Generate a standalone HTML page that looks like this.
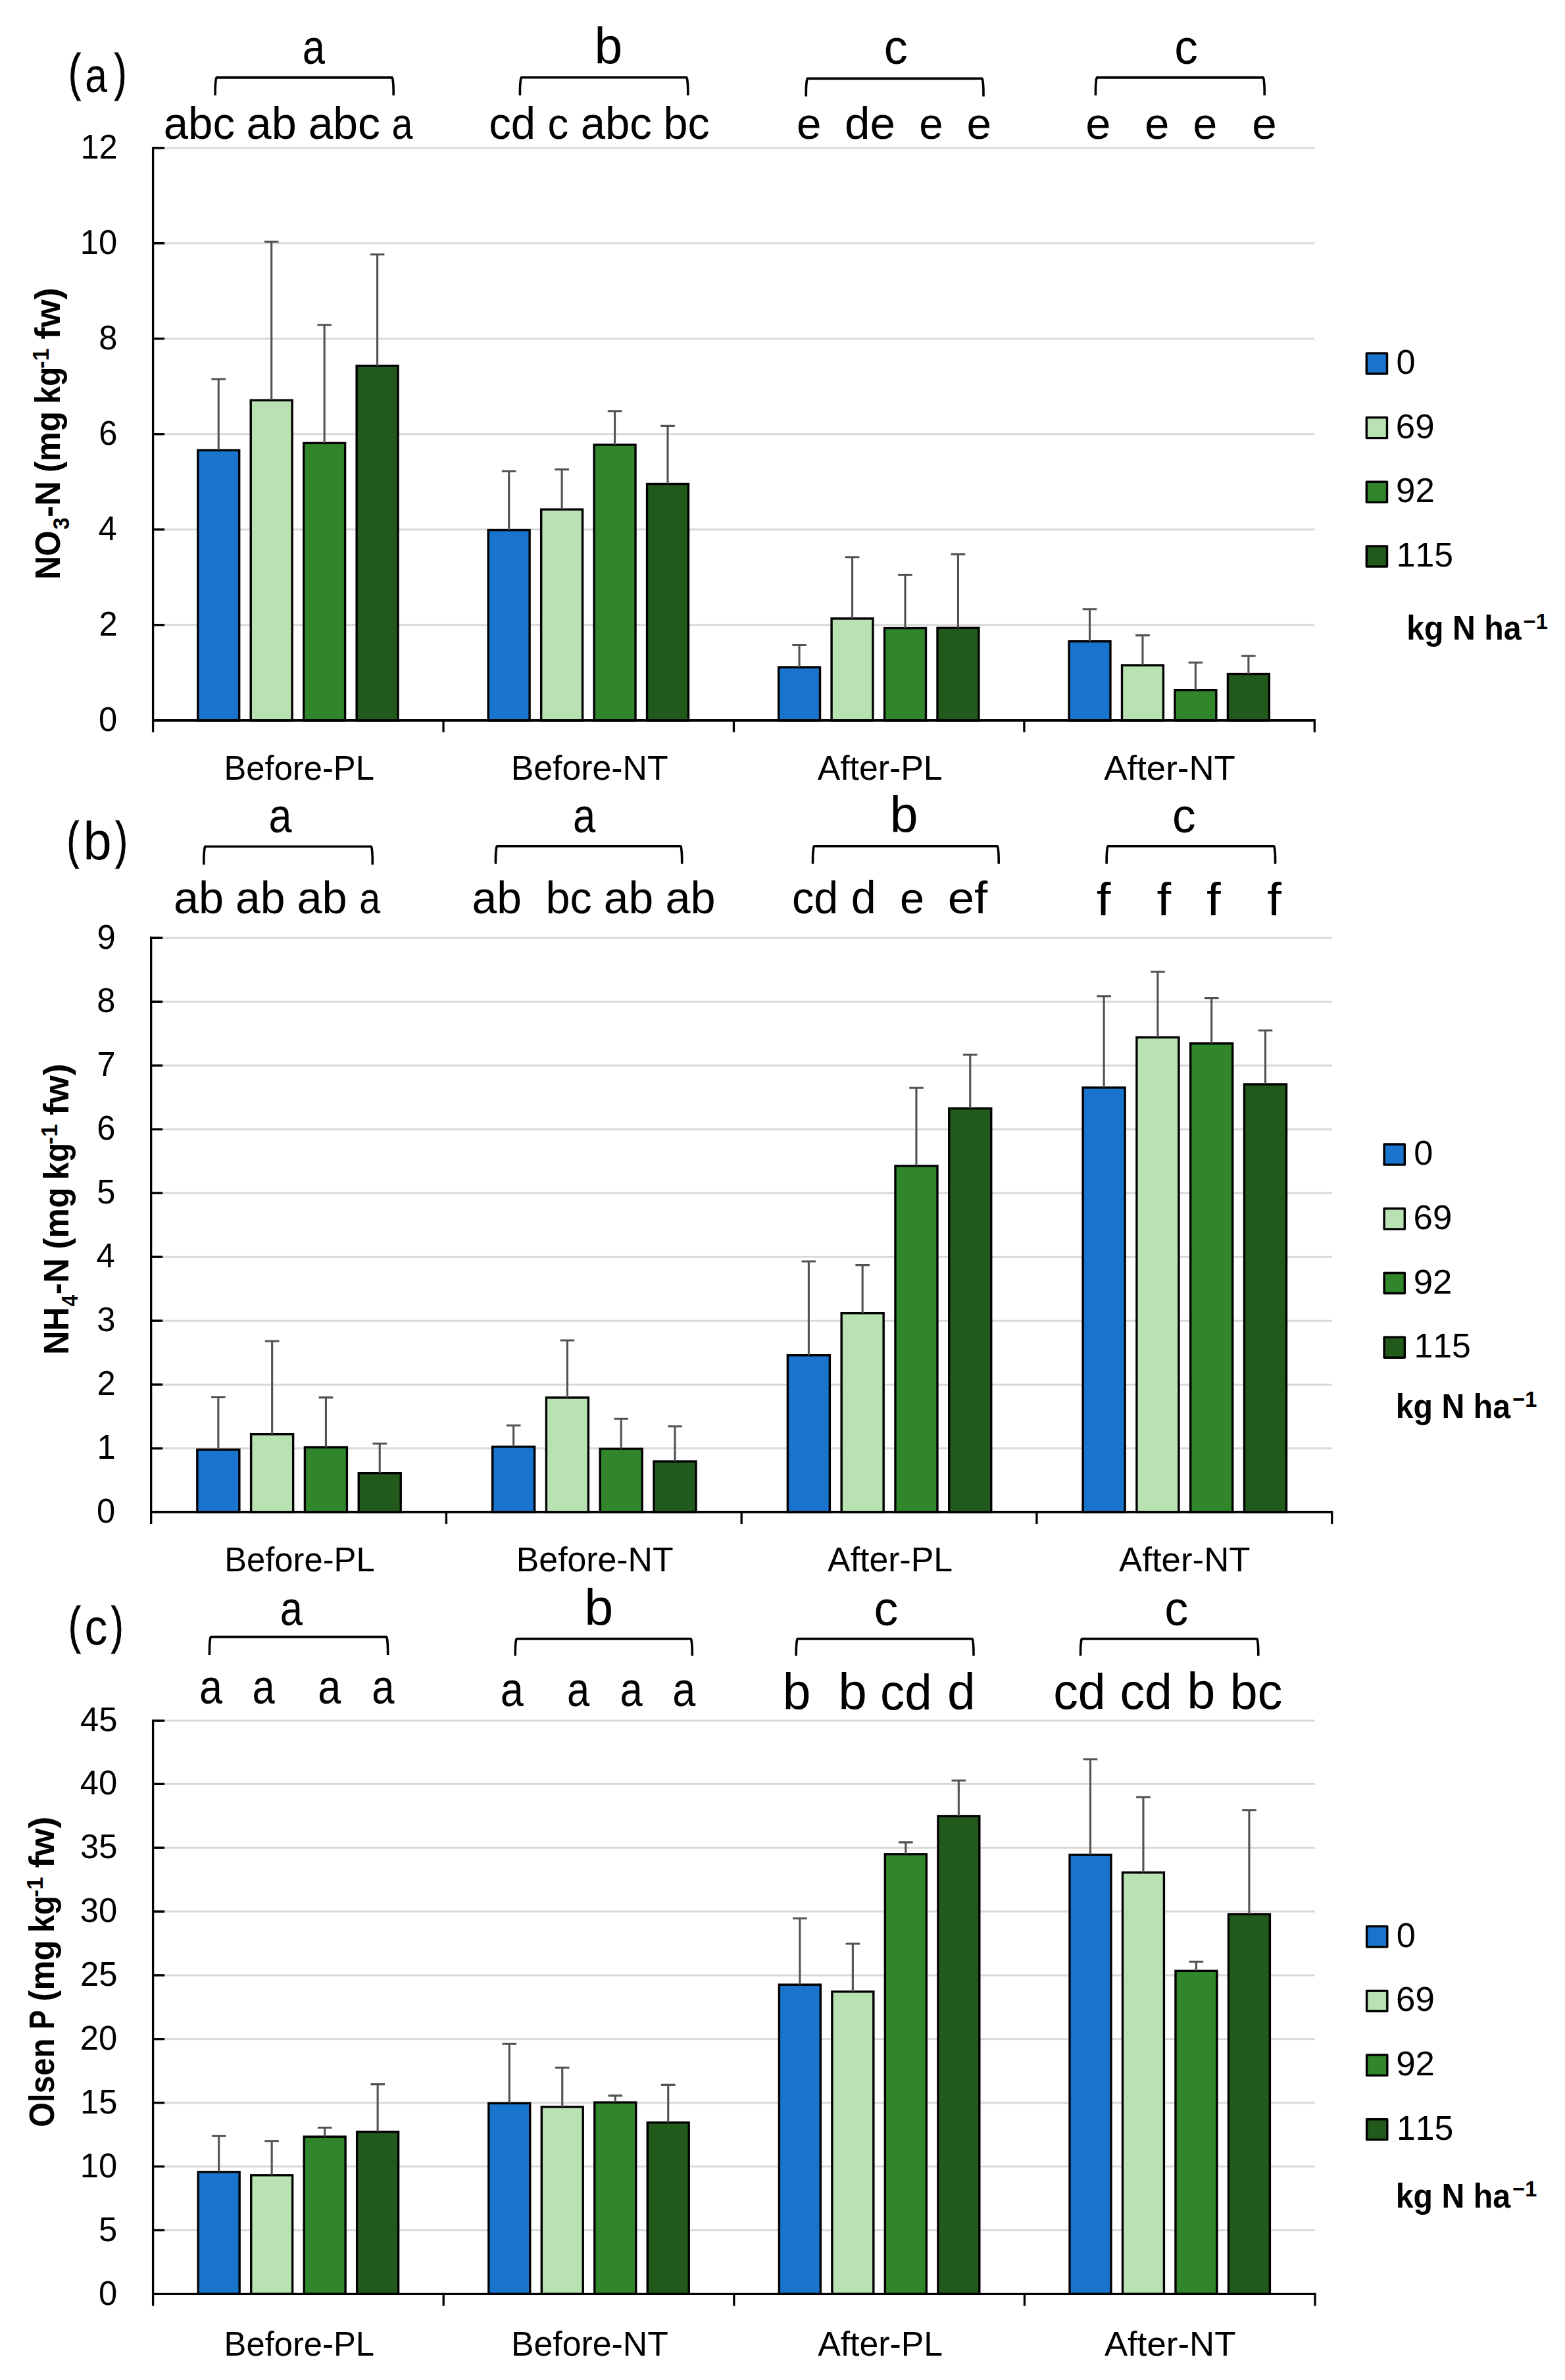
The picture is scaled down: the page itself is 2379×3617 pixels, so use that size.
<!DOCTYPE html>
<html lang="en"><head><meta charset="utf-8"><title>Soil nutrient charts</title>
<style>
html,body{margin:0;padding:0;background:#fff}
body{width:2379px;height:3617px;overflow:hidden}
svg{display:block}
text{font-family:"Liberation Sans",sans-serif;font-kerning:none;fill:#000;white-space:pre}
</style></head><body>
<svg width="2379" height="3617" viewBox="0 0 2379 3617">
<rect width="2379" height="3617" fill="#fff"/>
<line x1="232.6" y1="949.78" x2="1998.3" y2="949.78" stroke="#D9D9D9" stroke-width="3"/>
<line x1="232.6" y1="804.77" x2="1998.3" y2="804.77" stroke="#D9D9D9" stroke-width="3"/>
<line x1="232.6" y1="659.75" x2="1998.3" y2="659.75" stroke="#D9D9D9" stroke-width="3"/>
<line x1="232.6" y1="514.73" x2="1998.3" y2="514.73" stroke="#D9D9D9" stroke-width="3"/>
<line x1="232.6" y1="369.72" x2="1998.3" y2="369.72" stroke="#D9D9D9" stroke-width="3"/>
<line x1="232.6" y1="224.9" x2="1998.3" y2="224.9" stroke="#D9D9D9" stroke-width="3"/>
<rect x="300.78" y="684.2" width="62.9" height="410.6" fill="#1874CD" stroke="#000" stroke-width="3.4"/>
<rect x="381.23" y="608.3" width="62.9" height="486.5" fill="#B9E2B3" stroke="#000" stroke-width="3.4"/>
<rect x="461.69" y="673.4" width="62.9" height="421.4" fill="#31862B" stroke="#000" stroke-width="3.4"/>
<rect x="542.14" y="556.1" width="62.9" height="538.7" fill="#215A1B" stroke="#000" stroke-width="3.4"/>
<rect x="742.21" y="805.6" width="62.9" height="289.2" fill="#1874CD" stroke="#000" stroke-width="3.4"/>
<rect x="822.66" y="774.2" width="62.9" height="320.6" fill="#B9E2B3" stroke="#000" stroke-width="3.4"/>
<rect x="903.11" y="676" width="62.9" height="418.8" fill="#31862B" stroke="#000" stroke-width="3.4"/>
<rect x="983.57" y="735.5" width="62.9" height="359.3" fill="#215A1B" stroke="#000" stroke-width="3.4"/>
<rect x="1183.63" y="1014" width="62.9" height="80.8" fill="#1874CD" stroke="#000" stroke-width="3.4"/>
<rect x="1264.08" y="940" width="62.9" height="154.8" fill="#B9E2B3" stroke="#000" stroke-width="3.4"/>
<rect x="1344.54" y="954.6" width="62.9" height="140.2" fill="#31862B" stroke="#000" stroke-width="3.4"/>
<rect x="1424.99" y="954.3" width="62.9" height="140.5" fill="#215A1B" stroke="#000" stroke-width="3.4"/>
<rect x="1625.06" y="974.7" width="62.9" height="120.1" fill="#1874CD" stroke="#000" stroke-width="3.4"/>
<rect x="1705.51" y="1011" width="62.9" height="83.8" fill="#B9E2B3" stroke="#000" stroke-width="3.4"/>
<rect x="1785.96" y="1048.7" width="62.9" height="46.1" fill="#31862B" stroke="#000" stroke-width="3.4"/>
<rect x="1866.42" y="1024.5" width="62.9" height="70.3" fill="#215A1B" stroke="#000" stroke-width="3.4"/>
<path d="M332.23 683.9V576.2M321.43 576.2H343.03" fill="none" stroke="#525252" stroke-width="3.1"/>
<path d="M412.69 608V367.2M401.89 367.2H423.49" fill="none" stroke="#525252" stroke-width="3.1"/>
<path d="M493.14 673.1V493.8M482.34 493.8H503.94" fill="none" stroke="#525252" stroke-width="3.1"/>
<path d="M573.59 555.8V386.8M562.79 386.8H584.39" fill="none" stroke="#525252" stroke-width="3.1"/>
<path d="M773.66 805.3V716M762.86 716H784.46" fill="none" stroke="#525252" stroke-width="3.1"/>
<path d="M854.11 773.9V713.4M843.31 713.4H864.91" fill="none" stroke="#525252" stroke-width="3.1"/>
<path d="M934.56 675.7V624.8M923.76 624.8H945.36" fill="none" stroke="#525252" stroke-width="3.1"/>
<path d="M1015.02 735.2V647.4M1004.22 647.4H1025.82" fill="none" stroke="#525252" stroke-width="3.1"/>
<path d="M1215.08 1013.7V980.5M1204.28 980.5H1225.88" fill="none" stroke="#525252" stroke-width="3.1"/>
<path d="M1295.54 939.7V846.7M1284.74 846.7H1306.34" fill="none" stroke="#525252" stroke-width="3.1"/>
<path d="M1375.99 954.3V873.5M1365.19 873.5H1386.79" fill="none" stroke="#525252" stroke-width="3.1"/>
<path d="M1456.44 954V842.4M1445.64 842.4H1467.24" fill="none" stroke="#525252" stroke-width="3.1"/>
<path d="M1656.51 974.4V925.8M1645.71 925.8H1667.31" fill="none" stroke="#525252" stroke-width="3.1"/>
<path d="M1736.96 1010.7V965.6M1726.16 965.6H1747.76" fill="none" stroke="#525252" stroke-width="3.1"/>
<path d="M1817.41 1048.4V1007M1806.61 1007H1828.21" fill="none" stroke="#525252" stroke-width="3.1"/>
<path d="M1897.87 1024.2V996.7M1887.07 996.7H1908.67" fill="none" stroke="#525252" stroke-width="3.1"/>
<path d="M232.6 223.2V1112.8" stroke="#000" stroke-width="3.3" fill="none"/>
<path d="M231 1094.8H1999.9" stroke="#000" stroke-width="3.8" fill="none"/>
<path d="M674.02 1094.8V1112.8" stroke="#000" stroke-width="3.3" fill="none"/>
<path d="M1115.45 1094.8V1112.8" stroke="#000" stroke-width="3.3" fill="none"/>
<path d="M1556.88 1094.8V1112.8" stroke="#000" stroke-width="3.3" fill="none"/>
<path d="M1998.3 1094.8V1112.8" stroke="#000" stroke-width="3.3" fill="none"/>
<path d="M232.6 949.78H250.1" stroke="#000" stroke-width="3.4" fill="none"/>
<path d="M232.6 804.77H250.1" stroke="#000" stroke-width="3.4" fill="none"/>
<path d="M232.6 659.75H250.1" stroke="#000" stroke-width="3.4" fill="none"/>
<path d="M232.6 514.73H250.1" stroke="#000" stroke-width="3.4" fill="none"/>
<path d="M232.6 369.72H250.1" stroke="#000" stroke-width="3.4" fill="none"/>
<path d="M232.6 224.9H250.1" stroke="#000" stroke-width="3.4" fill="none"/>
<text transform="translate(149.95 1111) scale(0.97 1)" font-size="52.3">0</text>
<text transform="translate(150.52 965.98) scale(0.97 1)" font-size="52.3">2</text>
<text transform="translate(149.45 820.97) scale(0.97 1)" font-size="52.3">4</text>
<text transform="translate(150.2 675.95) scale(0.97 1)" font-size="52.3">6</text>
<text transform="translate(150.17 530.93) scale(0.97 1)" font-size="52.3">8</text>
<text transform="translate(121.82 385.92) scale(0.97 1)" font-size="52.3">10</text>
<text transform="translate(122.39 240.9) scale(0.97 1)" font-size="52.3">12</text>
<text transform="translate(340.5 1184.8) scale(0.97 1)" font-size="52.3">Before-PL</text>
<text transform="translate(776.8 1184.8) scale(0.99 1)" font-size="52.3">Before-NT</text>
<text transform="translate(1242.71 1184.8) scale(0.99 1)" font-size="52.3">After-PL</text>
<text transform="translate(1678.28 1184.8) scale(1.01 1)" font-size="52.3">After-NT</text>
<text transform="translate(459.68 96.57) scale(0.82 1)" font-size="75">a</text>
<text transform="translate(903.56 96.54) scale(0.98 1)" font-size="78.3">b</text>
<text transform="translate(1343.75 96.57) scale(0.96 1)" font-size="75">c</text>
<text transform="translate(1785.27 96.57) scale(0.95 1)" font-size="75">c</text>
<text transform="translate(248.74 210.83) scale(0.98 1)" font-size="68.5">abc</text>
<text transform="translate(374.6 210.83) scale(1 1)" font-size="68.5">ab</text>
<text transform="translate(468.63 210.83) scale(0.99 1)" font-size="68.5">abc</text>
<text transform="translate(595.57 210.85) scale(0.86 1)" font-size="66.7">a</text>
<text transform="translate(743.14 210.83) scale(0.98 1)" font-size="68.5">cd</text>
<text transform="translate(832.4 210.85) scale(0.95 1)" font-size="66.7">c</text>
<text transform="translate(882.65 210.83) scale(0.98 1)" font-size="68.5">abc</text>
<text transform="translate(1008.5 210.83) scale(0.97 1)" font-size="68.5">bc</text>
<text transform="translate(1211.03 210.85) scale(1.01 1)" font-size="66.7">e</text>
<text transform="translate(1284.08 210.83) scale(1.01 1)" font-size="68.5">de</text>
<text transform="translate(1397.22 210.85) scale(0.98 1)" font-size="66.7">e</text>
<text transform="translate(1469.54 210.85) scale(1.01 1)" font-size="66.7">e</text>
<text transform="translate(1650.28 210.85) scale(1.03 1)" font-size="66.7">e</text>
<text transform="translate(1740.37 210.85) scale(1 1)" font-size="66.7">e</text>
<text transform="translate(1813.38 210.85) scale(0.99 1)" font-size="66.7">e</text>
<text transform="translate(1903.34 210.85) scale(1.01 1)" font-size="66.7">e</text>
<path d="M327.1 145L327.2 133.9Q327.5 124.9 328.5 119.5L329.3 117.9H596L596.8 119.5Q597.8 124.9 598.1 133.9L598.2 145" fill="none" stroke="#000" stroke-width="3.6" stroke-linejoin="round"/>
<path d="M790.4 145L790.5 133.8Q790.8 124.8 791.8 119.4L792.6 117.8H1043.6L1044.4 119.4Q1045.4 124.8 1045.7 133.8L1045.8 145" fill="none" stroke="#000" stroke-width="3.6" stroke-linejoin="round"/>
<path d="M1225.3 146.4L1225.4 135.4Q1225.7 126.4 1226.7 121L1227.5 119.4H1492.8L1493.6 121Q1494.6 126.4 1494.9 135.4L1495 146.4" fill="none" stroke="#000" stroke-width="3.6" stroke-linejoin="round"/>
<path d="M1665.4 145L1665.5 133.9Q1665.8 124.9 1666.8 119.5L1667.6 117.9H1920L1920.8 119.5Q1921.8 124.9 1922.1 133.9L1922.2 145" fill="none" stroke="#000" stroke-width="3.6" stroke-linejoin="round"/>
<text transform="translate(104.36 137.36) scale(0.71 1)" font-size="78.45" stroke="#000" stroke-width="1.2">(</text>
<text transform="translate(174.08 137.36) scale(0.7 1)" font-size="78.45" stroke="#000" stroke-width="1.2">)</text>
<text transform="translate(129.13 139.57) scale(0.81 1)" font-size="74.66">a</text>
<text transform="translate(91.3 880.73) rotate(-90) scale(0.94 1)" font-size="52.8" font-weight="bold"><tspan>NO</tspan></text>
<text transform="translate(105 804.75) rotate(-90) scale(0.93 1)" font-size="35.3" font-weight="bold"><tspan>3</tspan></text>
<text transform="translate(91.3 786.04) rotate(-90) scale(0.99 1)" font-size="52.8" font-weight="bold"><tspan>-N</tspan></text>
<text transform="translate(91.3 718.01) rotate(-90) scale(0.96 1)" font-size="52.8" font-weight="bold"><tspan>(mg</tspan></text>
<text transform="translate(91.3 613.64) rotate(-90) scale(0.91 1)" font-size="52.8" font-weight="bold"><tspan>kg</tspan></text>
<text transform="translate(74.2 559.95) rotate(-90) scale(1 1)" font-size="34.7" font-weight="bold"><tspan>-1</tspan></text>
<text transform="translate(91.3 515.63) rotate(-90) scale(1.03 1)" font-size="52.8" font-weight="bold"><tspan>fw)</tspan></text>
<rect x="2077.3" y="536.85" width="31.2" height="31.1" fill="#1874CD" stroke="#000" stroke-width="3.4" stroke-linejoin="round"/>
<rect x="2077.3" y="634.55" width="31.2" height="31.1" fill="#B9E2B3" stroke="#000" stroke-width="3.4" stroke-linejoin="round"/>
<rect x="2077.3" y="732.25" width="31.2" height="31.1" fill="#31862B" stroke="#000" stroke-width="3.4" stroke-linejoin="round"/>
<rect x="2077.3" y="829.95" width="31.2" height="31.1" fill="#215A1B" stroke="#000" stroke-width="3.4" stroke-linejoin="round"/>
<text transform="translate(2122.46 567.9) scale(1 1)" font-size="52.3">0</text>
<text transform="translate(2121.83 665.6) scale(1.01 1)" font-size="52.3">69</text>
<text transform="translate(2122.03 763.3) scale(1.01 1)" font-size="52.3">92</text>
<text transform="translate(2122.76 861) scale(0.99 1)" font-size="52.3">115</text>
<text transform="translate(2138.13 972.3) scale(0.92 1)" font-size="52.5" font-weight="bold">kg N ha</text>
<text transform="translate(2315.65 955.5) scale(0.97 1)" font-size="33.6" font-weight="bold">−1</text>
<line x1="229.65" y1="2201.12" x2="2024.7" y2="2201.12" stroke="#D9D9D9" stroke-width="3"/>
<line x1="229.65" y1="2104.14" x2="2024.7" y2="2104.14" stroke="#D9D9D9" stroke-width="3"/>
<line x1="229.65" y1="2007.17" x2="2024.7" y2="2007.17" stroke="#D9D9D9" stroke-width="3"/>
<line x1="229.65" y1="1910.19" x2="2024.7" y2="1910.19" stroke="#D9D9D9" stroke-width="3"/>
<line x1="229.65" y1="1813.21" x2="2024.7" y2="1813.21" stroke="#D9D9D9" stroke-width="3"/>
<line x1="229.65" y1="1716.23" x2="2024.7" y2="1716.23" stroke="#D9D9D9" stroke-width="3"/>
<line x1="229.65" y1="1619.26" x2="2024.7" y2="1619.26" stroke="#D9D9D9" stroke-width="3"/>
<line x1="229.65" y1="1522.28" x2="2024.7" y2="1522.28" stroke="#D9D9D9" stroke-width="3"/>
<line x1="229.65" y1="1425.3" x2="2024.7" y2="1425.3" stroke="#D9D9D9" stroke-width="3"/>
<rect x="299.84" y="2203.1" width="64" height="95" fill="#1874CD" stroke="#000" stroke-width="3.4"/>
<rect x="381.63" y="2179.7" width="64" height="118.4" fill="#B9E2B3" stroke="#000" stroke-width="3.4"/>
<rect x="463.42" y="2199.6" width="64" height="98.5" fill="#31862B" stroke="#000" stroke-width="3.4"/>
<rect x="545.22" y="2238.7" width="64" height="59.4" fill="#215A1B" stroke="#000" stroke-width="3.4"/>
<rect x="748.6" y="2198.6" width="64" height="99.5" fill="#1874CD" stroke="#000" stroke-width="3.4"/>
<rect x="830.4" y="2124" width="64" height="174.1" fill="#B9E2B3" stroke="#000" stroke-width="3.4"/>
<rect x="912.19" y="2201.8" width="64" height="96.3" fill="#31862B" stroke="#000" stroke-width="3.4"/>
<rect x="993.98" y="2221" width="64" height="77.1" fill="#215A1B" stroke="#000" stroke-width="3.4"/>
<rect x="1197.37" y="2059.7" width="64" height="238.4" fill="#1874CD" stroke="#000" stroke-width="3.4"/>
<rect x="1279.16" y="1995.7" width="64" height="302.4" fill="#B9E2B3" stroke="#000" stroke-width="3.4"/>
<rect x="1360.95" y="1771.9" width="64" height="526.2" fill="#31862B" stroke="#000" stroke-width="3.4"/>
<rect x="1442.74" y="1684.5" width="64" height="613.6" fill="#215A1B" stroke="#000" stroke-width="3.4"/>
<rect x="1646.13" y="1652.9" width="64" height="645.2" fill="#1874CD" stroke="#000" stroke-width="3.4"/>
<rect x="1727.92" y="1576.6" width="64" height="721.5" fill="#B9E2B3" stroke="#000" stroke-width="3.4"/>
<rect x="1809.71" y="1585.8" width="64" height="712.3" fill="#31862B" stroke="#000" stroke-width="3.4"/>
<rect x="1891.5" y="1647.9" width="64" height="650.2" fill="#215A1B" stroke="#000" stroke-width="3.4"/>
<path d="M331.84 2202.8V2123.5M321.04 2123.5H342.64" fill="none" stroke="#525252" stroke-width="3.1"/>
<path d="M413.64 2179.4V2038.3M402.84 2038.3H424.44" fill="none" stroke="#525252" stroke-width="3.1"/>
<path d="M495.43 2199.3V2123.9M484.63 2123.9H506.23" fill="none" stroke="#525252" stroke-width="3.1"/>
<path d="M577.22 2238.4V2194M566.42 2194H588.02" fill="none" stroke="#525252" stroke-width="3.1"/>
<path d="M780.61 2198.3V2166.2M769.81 2166.2H791.41" fill="none" stroke="#525252" stroke-width="3.1"/>
<path d="M862.4 2123.7V2037M851.6 2037H873.2" fill="none" stroke="#525252" stroke-width="3.1"/>
<path d="M944.19 2201.5V2156.3M933.39 2156.3H954.99" fill="none" stroke="#525252" stroke-width="3.1"/>
<path d="M1025.98 2220.7V2167.8M1015.18 2167.8H1036.78" fill="none" stroke="#525252" stroke-width="3.1"/>
<path d="M1229.37 2059.4V1917M1218.57 1917H1240.17" fill="none" stroke="#525252" stroke-width="3.1"/>
<path d="M1311.16 1995.4V1922.6M1300.36 1922.6H1321.96" fill="none" stroke="#525252" stroke-width="3.1"/>
<path d="M1392.95 1771.6V1653.2M1382.15 1653.2H1403.75" fill="none" stroke="#525252" stroke-width="3.1"/>
<path d="M1474.74 1684.2V1603M1463.94 1603H1485.54" fill="none" stroke="#525252" stroke-width="3.1"/>
<path d="M1678.13 1652.6V1513.9M1667.33 1513.9H1688.93" fill="none" stroke="#525252" stroke-width="3.1"/>
<path d="M1759.92 1576.3V1477M1749.12 1477H1770.72" fill="none" stroke="#525252" stroke-width="3.1"/>
<path d="M1841.71 1585.5V1516.6M1830.91 1516.6H1852.51" fill="none" stroke="#525252" stroke-width="3.1"/>
<path d="M1923.51 1647.6V1566M1912.71 1566H1934.31" fill="none" stroke="#525252" stroke-width="3.1"/>
<path d="M229.65 1423.6V2316.1" stroke="#000" stroke-width="3.3" fill="none"/>
<path d="M228.05 2297.9H2026.3" stroke="#000" stroke-width="3.8" fill="none"/>
<path d="M678.41 2298.1V2316.1" stroke="#000" stroke-width="3.3" fill="none"/>
<path d="M1127.17 2298.1V2316.1" stroke="#000" stroke-width="3.3" fill="none"/>
<path d="M1575.94 2298.1V2316.1" stroke="#000" stroke-width="3.3" fill="none"/>
<path d="M2024.7 2298.1V2316.1" stroke="#000" stroke-width="3.3" fill="none"/>
<path d="M229.65 2201.12H247.15" stroke="#000" stroke-width="3.4" fill="none"/>
<path d="M229.65 2104.14H247.15" stroke="#000" stroke-width="3.4" fill="none"/>
<path d="M229.65 2007.17H247.15" stroke="#000" stroke-width="3.4" fill="none"/>
<path d="M229.65 1910.19H247.15" stroke="#000" stroke-width="3.4" fill="none"/>
<path d="M229.65 1813.21H247.15" stroke="#000" stroke-width="3.4" fill="none"/>
<path d="M229.65 1716.23H247.15" stroke="#000" stroke-width="3.4" fill="none"/>
<path d="M229.65 1619.26H247.15" stroke="#000" stroke-width="3.4" fill="none"/>
<path d="M229.65 1522.28H247.15" stroke="#000" stroke-width="3.4" fill="none"/>
<path d="M229.65 1425.3H247.15" stroke="#000" stroke-width="3.4" fill="none"/>
<text transform="translate(147 2314.3) scale(0.97 1)" font-size="52.3">0</text>
<text transform="translate(147.49 2217.32) scale(0.97 1)" font-size="52.3">1</text>
<text transform="translate(147.57 2120.34) scale(0.97 1)" font-size="52.3">2</text>
<text transform="translate(147.25 2023.37) scale(0.97 1)" font-size="52.3">3</text>
<text transform="translate(146.5 1926.39) scale(0.97 1)" font-size="52.3">4</text>
<text transform="translate(147.15 1829.41) scale(0.97 1)" font-size="52.3">5</text>
<text transform="translate(147.25 1732.43) scale(0.97 1)" font-size="52.3">6</text>
<text transform="translate(147.57 1635.46) scale(0.97 1)" font-size="52.3">7</text>
<text transform="translate(147.22 1538.48) scale(0.97 1)" font-size="52.3">8</text>
<text transform="translate(147.42 1441.5) scale(0.97 1)" font-size="52.3">9</text>
<text transform="translate(341.22 2387.8) scale(0.97 1)" font-size="52.3">Before-PL</text>
<text transform="translate(784.85 2387.8) scale(0.99 1)" font-size="52.3">Before-NT</text>
<text transform="translate(1258.11 2387.8) scale(0.99 1)" font-size="52.3">After-PL</text>
<text transform="translate(1701.02 2387.8) scale(1.01 1)" font-size="52.3">After-NT</text>
<text transform="translate(408.44 1264.57) scale(0.84 1)" font-size="75">a</text>
<text transform="translate(870.89 1264.57) scale(0.82 1)" font-size="75">a</text>
<text transform="translate(1352.66 1264.54) scale(0.98 1)" font-size="78.3">b</text>
<text transform="translate(1781.88 1264.57) scale(0.95 1)" font-size="75">c</text>
<text transform="translate(263.9 1388.03) scale(1 1)" font-size="68.5">ab</text>
<text transform="translate(357.92 1388.03) scale(0.99 1)" font-size="68.5">ab</text>
<text transform="translate(451.39 1388.03) scale(1 1)" font-size="68.5">ab</text>
<text transform="translate(546.18 1388.05) scale(0.86 1)" font-size="66.7">a</text>
<text transform="translate(717.42 1388.03) scale(0.99 1)" font-size="68.5">ab</text>
<text transform="translate(829.52 1388.03) scale(0.97 1)" font-size="68.5">bc</text>
<text transform="translate(917.82 1388.03) scale(0.99 1)" font-size="68.5">ab</text>
<text transform="translate(1011.5 1388.03) scale(1 1)" font-size="68.5">ab</text>
<text transform="translate(1204.07 1388.03) scale(0.97 1)" font-size="68.5">cd</text>
<text transform="translate(1293.72 1388.02) scale(0.98 1)" font-size="69.8">d</text>
<text transform="translate(1367.96 1388.05) scale(1 1)" font-size="66.7">e</text>
<text transform="translate(1440.71 1388.03) scale(1.06 1)" font-size="68.5">ef</text>
<text transform="translate(1666.73 1391.2) scale(1.12 1)" font-size="69.8">f</text>
<text transform="translate(1758.58 1391.2) scale(1.12 1)" font-size="69.8">f</text>
<text transform="translate(1834.08 1391.2) scale(1.12 1)" font-size="69.8">f</text>
<text transform="translate(1926.33 1391.2) scale(1.12 1)" font-size="69.8">f</text>
<path d="M309.8 1314.1L309.9 1302.5Q310.2 1293.5 311.2 1288.1L312 1286.5H564.1L564.9 1288.1Q565.9 1293.5 566.2 1302.5L566.3 1314.1" fill="none" stroke="#000" stroke-width="3.6" stroke-linejoin="round"/>
<path d="M753.4 1312.7L753.5 1301.9Q753.8 1292.9 754.8 1287.5L755.6 1285.9H1034.5L1035.3 1287.5Q1036.3 1292.9 1036.6 1301.9L1036.7 1312.7" fill="none" stroke="#000" stroke-width="3.6" stroke-linejoin="round"/>
<path d="M1235.5 1312.7L1235.6 1301.9Q1235.9 1292.9 1236.9 1287.5L1237.7 1285.9H1516L1516.8 1287.5Q1517.8 1292.9 1518.1 1301.9L1518.2 1312.7" fill="none" stroke="#000" stroke-width="3.6" stroke-linejoin="round"/>
<path d="M1682.1 1312.7L1682.2 1301.9Q1682.5 1292.9 1683.5 1287.5L1684.3 1285.9H1936.4L1937.2 1287.5Q1938.2 1292.9 1938.5 1301.9L1938.6 1312.7" fill="none" stroke="#000" stroke-width="3.6" stroke-linejoin="round"/>
<text transform="translate(101.79 1304.13) scale(0.7 1)" font-size="78.13" stroke="#000" stroke-width="1.2">(</text>
<text transform="translate(175.48 1304.13) scale(0.7 1)" font-size="78.13" stroke="#000" stroke-width="1.2">)</text>
<text transform="translate(126.41 1306.41) scale(0.96 1)" font-size="80.75">b</text>
<text transform="translate(103.8 2058.84) rotate(-90) scale(0.95 1)" font-size="52.8" font-weight="bold"><tspan>NH</tspan></text>
<text transform="translate(117.5 1985.58) rotate(-90) scale(0.9 1)" font-size="35.3" font-weight="bold"><tspan>4</tspan></text>
<text transform="translate(103.8 1967.14) rotate(-90) scale(0.99 1)" font-size="52.8" font-weight="bold"><tspan>-N</tspan></text>
<text transform="translate(103.8 1898.45) rotate(-90) scale(0.97 1)" font-size="52.8" font-weight="bold"><tspan>(mg</tspan></text>
<text transform="translate(103.8 1792.89) rotate(-90) scale(0.91 1)" font-size="52.8" font-weight="bold"><tspan>kg</tspan></text>
<text transform="translate(86.7 1739.2) rotate(-90) scale(1 1)" font-size="34.7" font-weight="bold"><tspan>-1</tspan></text>
<text transform="translate(103.8 1694.88) rotate(-90) scale(1.03 1)" font-size="52.8" font-weight="bold"><tspan>fw)</tspan></text>
<rect x="2104.1" y="1739.05" width="31.2" height="31.1" fill="#1874CD" stroke="#000" stroke-width="3.4" stroke-linejoin="round"/>
<rect x="2104.1" y="1836.75" width="31.2" height="31.1" fill="#B9E2B3" stroke="#000" stroke-width="3.4" stroke-linejoin="round"/>
<rect x="2104.1" y="1934.45" width="31.2" height="31.1" fill="#31862B" stroke="#000" stroke-width="3.4" stroke-linejoin="round"/>
<rect x="2104.1" y="2032.15" width="31.2" height="31.1" fill="#215A1B" stroke="#000" stroke-width="3.4" stroke-linejoin="round"/>
<text transform="translate(2149.16 1770.1) scale(1 1)" font-size="52.3">0</text>
<text transform="translate(2148.53 1867.8) scale(1.01 1)" font-size="52.3">69</text>
<text transform="translate(2148.73 1965.5) scale(1.01 1)" font-size="52.3">92</text>
<text transform="translate(2149.46 2063.2) scale(0.99 1)" font-size="52.3">115</text>
<text transform="translate(2121.63 2155) scale(0.92 1)" font-size="52.5" font-weight="bold">kg N ha</text>
<text transform="translate(2299.15 2138.2) scale(0.97 1)" font-size="33.6" font-weight="bold">−1</text>
<line x1="232.6" y1="3389.42" x2="1999" y2="3389.42" stroke="#D9D9D9" stroke-width="3"/>
<line x1="232.6" y1="3292.54" x2="1999" y2="3292.54" stroke="#D9D9D9" stroke-width="3"/>
<line x1="232.6" y1="3195.67" x2="1999" y2="3195.67" stroke="#D9D9D9" stroke-width="3"/>
<line x1="232.6" y1="3098.79" x2="1999" y2="3098.79" stroke="#D9D9D9" stroke-width="3"/>
<line x1="232.6" y1="3001.91" x2="1999" y2="3001.91" stroke="#D9D9D9" stroke-width="3"/>
<line x1="232.6" y1="2905.03" x2="1999" y2="2905.03" stroke="#D9D9D9" stroke-width="3"/>
<line x1="232.6" y1="2808.16" x2="1999" y2="2808.16" stroke="#D9D9D9" stroke-width="3"/>
<line x1="232.6" y1="2711.28" x2="1999" y2="2711.28" stroke="#D9D9D9" stroke-width="3"/>
<line x1="232.6" y1="2615.1" x2="1999" y2="2615.1" stroke="#D9D9D9" stroke-width="3"/>
<rect x="301.21" y="3300.8" width="62.93" height="185.5" fill="#1874CD" stroke="#000" stroke-width="3.4"/>
<rect x="381.69" y="3305.8" width="62.93" height="180.5" fill="#B9E2B3" stroke="#000" stroke-width="3.4"/>
<rect x="462.18" y="3247.2" width="62.93" height="239.1" fill="#31862B" stroke="#000" stroke-width="3.4"/>
<rect x="542.66" y="3239.9" width="62.93" height="246.4" fill="#215A1B" stroke="#000" stroke-width="3.4"/>
<rect x="742.81" y="3196.4" width="62.93" height="289.9" fill="#1874CD" stroke="#000" stroke-width="3.4"/>
<rect x="823.29" y="3202" width="62.93" height="284.3" fill="#B9E2B3" stroke="#000" stroke-width="3.4"/>
<rect x="903.78" y="3195.1" width="62.93" height="291.2" fill="#31862B" stroke="#000" stroke-width="3.4"/>
<rect x="984.26" y="3225.8" width="62.93" height="260.5" fill="#215A1B" stroke="#000" stroke-width="3.4"/>
<rect x="1184.41" y="3016.2" width="62.93" height="470.1" fill="#1874CD" stroke="#000" stroke-width="3.4"/>
<rect x="1264.89" y="3026.8" width="62.93" height="459.5" fill="#B9E2B3" stroke="#000" stroke-width="3.4"/>
<rect x="1345.38" y="2817.8" width="62.93" height="668.5" fill="#31862B" stroke="#000" stroke-width="3.4"/>
<rect x="1425.86" y="2759.9" width="62.93" height="726.4" fill="#215A1B" stroke="#000" stroke-width="3.4"/>
<rect x="1626.01" y="2818.9" width="62.93" height="667.4" fill="#1874CD" stroke="#000" stroke-width="3.4"/>
<rect x="1706.49" y="2845.8" width="62.93" height="640.5" fill="#B9E2B3" stroke="#000" stroke-width="3.4"/>
<rect x="1786.98" y="2995.3" width="62.93" height="491" fill="#31862B" stroke="#000" stroke-width="3.4"/>
<rect x="1867.46" y="2909" width="62.93" height="577.3" fill="#215A1B" stroke="#000" stroke-width="3.4"/>
<path d="M332.67 3300.5V3246.2M321.87 3246.2H343.47" fill="none" stroke="#525252" stroke-width="3.1"/>
<path d="M413.16 3305.5V3253.8M402.36 3253.8H423.96" fill="none" stroke="#525252" stroke-width="3.1"/>
<path d="M493.64 3246.9V3233.5M482.84 3233.5H504.44" fill="none" stroke="#525252" stroke-width="3.1"/>
<path d="M574.13 3239.6V3167.6M563.33 3167.6H584.93" fill="none" stroke="#525252" stroke-width="3.1"/>
<path d="M774.27 3196.1V3106.3M763.47 3106.3H785.07" fill="none" stroke="#525252" stroke-width="3.1"/>
<path d="M854.76 3201.7V3142.3M843.96 3142.3H865.56" fill="none" stroke="#525252" stroke-width="3.1"/>
<path d="M935.24 3194.8V3184.9M924.44 3184.9H946.04" fill="none" stroke="#525252" stroke-width="3.1"/>
<path d="M1015.73 3225.5V3168.4M1004.93 3168.4H1026.53" fill="none" stroke="#525252" stroke-width="3.1"/>
<path d="M1215.87 3015.9V2915.5M1205.07 2915.5H1226.67" fill="none" stroke="#525252" stroke-width="3.1"/>
<path d="M1296.36 3026.5V2954M1285.56 2954H1307.16" fill="none" stroke="#525252" stroke-width="3.1"/>
<path d="M1376.84 2817.5V2799.9M1366.04 2799.9H1387.64" fill="none" stroke="#525252" stroke-width="3.1"/>
<path d="M1457.33 2759.6V2706M1446.53 2706H1468.13" fill="none" stroke="#525252" stroke-width="3.1"/>
<path d="M1657.47 2818.6V2673.8M1646.67 2673.8H1668.27" fill="none" stroke="#525252" stroke-width="3.1"/>
<path d="M1737.96 2845.5V2731.3M1727.16 2731.3H1748.76" fill="none" stroke="#525252" stroke-width="3.1"/>
<path d="M1818.44 2995V2981.3M1807.64 2981.3H1829.24" fill="none" stroke="#525252" stroke-width="3.1"/>
<path d="M1898.93 2908.7V2750.8M1888.13 2750.8H1909.73" fill="none" stroke="#525252" stroke-width="3.1"/>
<path d="M232.6 2613.4V3504.3" stroke="#000" stroke-width="3.3" fill="none"/>
<path d="M231 3486.4H2000.6" stroke="#000" stroke-width="3.3" fill="none"/>
<path d="M674.2 3486.3V3504.3" stroke="#000" stroke-width="3.3" fill="none"/>
<path d="M1115.8 3486.3V3504.3" stroke="#000" stroke-width="3.3" fill="none"/>
<path d="M1557.4 3486.3V3504.3" stroke="#000" stroke-width="3.3" fill="none"/>
<path d="M1999 3486.3V3504.3" stroke="#000" stroke-width="3.3" fill="none"/>
<path d="M232.6 3389.42H250.1" stroke="#000" stroke-width="3.4" fill="none"/>
<path d="M232.6 3292.54H250.1" stroke="#000" stroke-width="3.4" fill="none"/>
<path d="M232.6 3195.67H250.1" stroke="#000" stroke-width="3.4" fill="none"/>
<path d="M232.6 3098.79H250.1" stroke="#000" stroke-width="3.4" fill="none"/>
<path d="M232.6 3001.91H250.1" stroke="#000" stroke-width="3.4" fill="none"/>
<path d="M232.6 2905.03H250.1" stroke="#000" stroke-width="3.4" fill="none"/>
<path d="M232.6 2808.16H250.1" stroke="#000" stroke-width="3.4" fill="none"/>
<path d="M232.6 2711.28H250.1" stroke="#000" stroke-width="3.4" fill="none"/>
<path d="M232.6 2615.1H250.1" stroke="#000" stroke-width="3.4" fill="none"/>
<text transform="translate(149.95 3502.5) scale(0.97 1)" font-size="52.3">0</text>
<text transform="translate(150.1 3405.62) scale(0.97 1)" font-size="52.3">5</text>
<text transform="translate(121.82 3308.74) scale(0.97 1)" font-size="52.3">10</text>
<text transform="translate(121.97 3211.87) scale(0.97 1)" font-size="52.3">15</text>
<text transform="translate(121.82 3114.99) scale(0.97 1)" font-size="52.3">20</text>
<text transform="translate(121.97 3018.11) scale(0.97 1)" font-size="52.3">25</text>
<text transform="translate(121.82 2921.23) scale(0.97 1)" font-size="52.3">30</text>
<text transform="translate(121.97 2824.36) scale(0.97 1)" font-size="52.3">35</text>
<text transform="translate(121.82 2727.48) scale(0.97 1)" font-size="52.3">40</text>
<text transform="translate(121.97 2630.6) scale(0.97 1)" font-size="52.3">45</text>
<text transform="translate(340.59 3580.3) scale(0.97 1)" font-size="52.3">Before-PL</text>
<text transform="translate(777.06 3580.3) scale(0.99 1)" font-size="52.3">Before-NT</text>
<text transform="translate(1243.15 3580.3) scale(0.99 1)" font-size="52.3">After-PL</text>
<text transform="translate(1678.9 3580.3) scale(1.01 1)" font-size="52.3">After-NT</text>
<text transform="translate(425.79 2470.27) scale(0.82 1)" font-size="75">a</text>
<text transform="translate(888.13 2470.24) scale(1.01 1)" font-size="78.3">b</text>
<text transform="translate(1328.59 2470.27) scale(0.98 1)" font-size="75">c</text>
<text transform="translate(1770.14 2470.27) scale(0.96 1)" font-size="75">c</text>
<text transform="translate(302.94 2589.07) scale(0.84 1)" font-size="75">a</text>
<text transform="translate(383.48 2589.07) scale(0.82 1)" font-size="75">a</text>
<text transform="translate(483.21 2589.07) scale(0.84 1)" font-size="75">a</text>
<text transform="translate(565.18 2589.07) scale(0.82 1)" font-size="75">a</text>
<text transform="translate(760.64 2593.27) scale(0.84 1)" font-size="75">a</text>
<text transform="translate(861.89 2593.27) scale(0.82 1)" font-size="75">a</text>
<text transform="translate(942.39 2593.27) scale(0.82 1)" font-size="75">a</text>
<text transform="translate(1022.24 2593.27) scale(0.84 1)" font-size="75">a</text>
<text transform="translate(1189.66 2597.64) scale(0.98 1)" font-size="78.3">b</text>
<text transform="translate(1274.37 2597.64) scale(1 1)" font-size="78.3">b</text>
<text transform="translate(1338.02 2597.65) scale(0.97 1)" font-size="76.8">cd</text>
<text transform="translate(1440.08 2597.64) scale(0.98 1)" font-size="78.3">d</text>
<text transform="translate(1601.22 2597.05) scale(0.98 1)" font-size="76.8">cd</text>
<text transform="translate(1702.4 2597.05) scale(0.98 1)" font-size="76.8">cd</text>
<text transform="translate(1804.21 2597.04) scale(0.99 1)" font-size="78.3">b</text>
<text transform="translate(1869.84 2597.05) scale(0.98 1)" font-size="76.8">bc</text>
<path d="M318.4 2515L318.5 2503.6Q318.8 2494.6 319.8 2489.2L320.6 2487.6H587.4L588.2 2489.2Q589.2 2494.6 589.5 2503.6L589.6 2515" fill="none" stroke="#000" stroke-width="3.6" stroke-linejoin="round"/>
<path d="M783.2 2516.4L783.3 2506.5Q783.6 2497.5 784.6 2492.1L785.4 2490.5H1050.1L1050.9 2492.1Q1051.9 2497.5 1052.2 2506.5L1052.3 2516.4" fill="none" stroke="#000" stroke-width="3.6" stroke-linejoin="round"/>
<path d="M1210.2 2516.4L1210.3 2506.5Q1210.6 2497.5 1211.6 2492.1L1212.4 2490.5H1477.8L1478.6 2492.1Q1479.6 2497.5 1479.9 2506.5L1480 2516.4" fill="none" stroke="#000" stroke-width="3.6" stroke-linejoin="round"/>
<path d="M1642.5 2516.4L1642.6 2506.5Q1642.9 2497.5 1643.9 2492.1L1644.7 2490.5H1910.6L1911.4 2492.1Q1912.4 2497.5 1912.7 2506.5L1912.8 2516.4" fill="none" stroke="#000" stroke-width="3.6" stroke-linejoin="round"/>
<text transform="translate(104.36 2496.69) scale(0.71 1)" font-size="77.8" stroke="#000" stroke-width="1.2">(</text>
<text transform="translate(168.98 2496.69) scale(0.71 1)" font-size="77.8" stroke="#000" stroke-width="1.2">)</text>
<text transform="translate(128.42 2499.25) scale(0.91 1)" font-size="76.66">c</text>
<text transform="translate(82 3232.8) rotate(-90) scale(0.92 1)" font-size="52.8" font-weight="bold"><tspan>Olsen</tspan></text>
<text transform="translate(82 3084.18) rotate(-90) scale(0.84 1)" font-size="52.8" font-weight="bold"><tspan>P</tspan></text>
<text transform="translate(82 3041.41) rotate(-90) scale(0.96 1)" font-size="52.8" font-weight="bold"><tspan>(mg</tspan></text>
<text transform="translate(82 2937.04) rotate(-90) scale(0.91 1)" font-size="52.8" font-weight="bold"><tspan>kg</tspan></text>
<text transform="translate(64.9 2883.35) rotate(-90) scale(1 1)" font-size="34.7" font-weight="bold"><tspan>-1</tspan></text>
<text transform="translate(82 2839.03) rotate(-90) scale(1.03 1)" font-size="52.8" font-weight="bold"><tspan>fw)</tspan></text>
<rect x="2077.6" y="2927.65" width="31.2" height="31.1" fill="#1874CD" stroke="#000" stroke-width="3.4" stroke-linejoin="round"/>
<rect x="2077.6" y="3025.35" width="31.2" height="31.1" fill="#B9E2B3" stroke="#000" stroke-width="3.4" stroke-linejoin="round"/>
<rect x="2077.6" y="3123.05" width="31.2" height="31.1" fill="#31862B" stroke="#000" stroke-width="3.4" stroke-linejoin="round"/>
<rect x="2077.6" y="3220.75" width="31.2" height="31.1" fill="#215A1B" stroke="#000" stroke-width="3.4" stroke-linejoin="round"/>
<text transform="translate(2122.66 2958.7) scale(1 1)" font-size="52.3">0</text>
<text transform="translate(2122.03 3056.4) scale(1.01 1)" font-size="52.3">69</text>
<text transform="translate(2122.23 3154.1) scale(1.01 1)" font-size="52.3">92</text>
<text transform="translate(2122.96 3251.8) scale(0.99 1)" font-size="52.3">115</text>
<text transform="translate(2121.63 3355.1) scale(0.92 1)" font-size="52.5" font-weight="bold">kg N ha</text>
<text transform="translate(2299.15 3338.3) scale(0.97 1)" font-size="33.6" font-weight="bold">−1</text>
</svg>
</body></html>
